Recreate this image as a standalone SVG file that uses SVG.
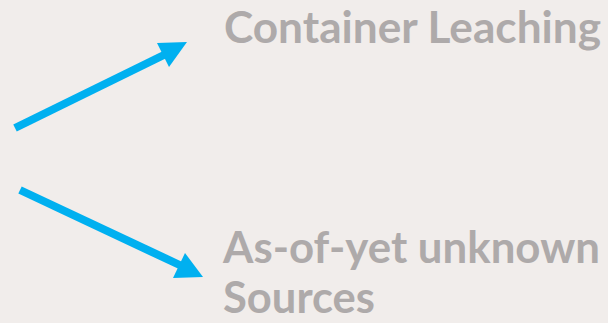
<svg xmlns="http://www.w3.org/2000/svg" width="608" height="323" viewBox="0 0 608 323">
  <style>
    .label { font-family: Lato, "Open Sans", "Liberation Sans", sans-serif; font-weight: bold; font-size: 44px; fill: #aeaaaa; }
    .shaft { stroke: #00b0f0; stroke-width: 8; fill: none; }
    .head { fill: #00b0f0; }
  </style>
  <rect width="608" height="323" fill="#f1edeb"/>
  <g id="connectors">
    <line class="shaft" x1="15" y1="128" x2="170" y2="52"/>
    <polygon class="head" points="157,43 187,42 169,67"/>
    <line class="shaft" x1="20" y1="190" x2="186" y2="268"/>
    <polygon class="head" points="185,253 203,277 173,278"/>
  </g>
  <g id="container-leaching">
    <text class="label" x="224" y="43" textLength="377" lengthAdjust="spacingAndGlyphs">Container Leaching</text>
  </g>
  <g id="unknown-sources">
    <text class="label" x="223" y="263" textLength="377" lengthAdjust="spacingAndGlyphs">As-of-yet unknown</text>
    <text class="label" x="223" y="313" textLength="152" lengthAdjust="spacingAndGlyphs">Sources</text>
  </g>
</svg>
